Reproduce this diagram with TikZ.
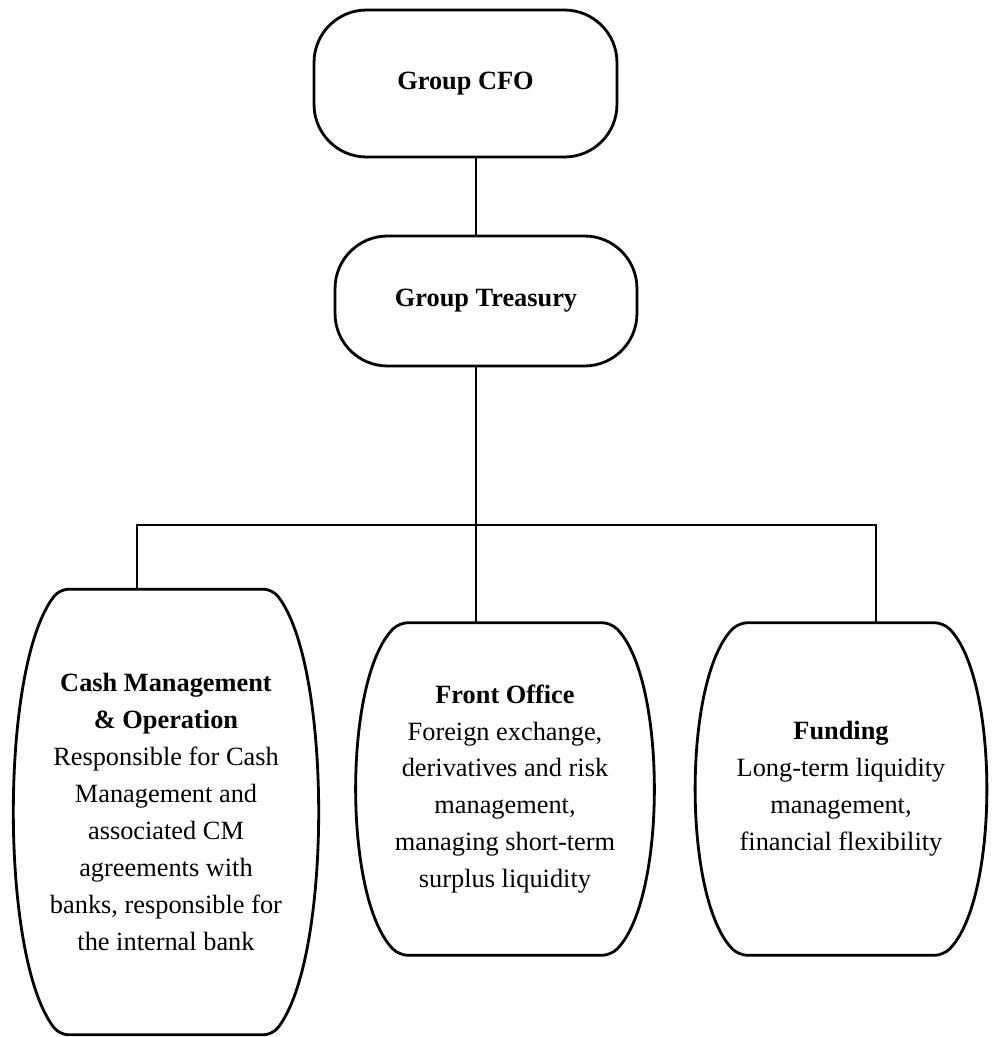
\documentclass[tikz,border=0pt]{standalone}
\usepackage{fontspec}
\setmainfont{Liberation Serif}
\usetikzlibrary{calc}
\newcommand{\orgfont}{\fontsize{15}{21}\selectfont}
\tikzset{
  orgbox/.style={draw, line width=1.6pt, rounded corners=1.05cm, align=center, font=\orgfont\bfseries},
  barrel/.style={align=center, inner sep=0pt, font=\orgfont},
  rim/.style={line width=1.6pt, line join=round, rounded corners=5pt},
  link/.style={line width=1pt}
}
% barrel outline round a named node: #1 node, #2 inset of the flat top
\newcommand{\barrelrim}[2]{%
  \draw[rim] (#1.north) -- ($(#1.north east)-(#2,0)$)
    .. controls ($(#1.north east)!0.17!(#1.south east)+(#2/3,0)$) and ($(#1.south east)!0.17!(#1.north east)+(#2/3,0)$) .. ($(#1.south east)-(#2,0)$)
    -- ($(#1.south west)+(#2,0)$)
    .. controls ($(#1.south west)!0.17!(#1.north west)-(#2/3,0)$) and ($(#1.north west)!0.17!(#1.south west)-(#2/3,0)$) .. ($(#1.north west)+(#2,0)$) -- cycle;}

\begin{document}
\begin{tikzpicture}[x=0.02cm, y=-0.02cm]
  \useasboundingbox (0,0) rectangle (999,1037);
  \node[orgbox, minimum width=6.06cm, minimum height=2.94cm] (cfo) at (465.5,83.5) {Group CFO};
  \node[orgbox, minimum width=6.04cm, minimum height=2.6cm] (treasury) at (486,301) {Group Treasury};

  \node[barrel, minimum width=6.04cm, minimum height=8.9cm] (cash) at (166,812)
    {\textbf{Cash Management}\\\textbf{\& Operation}\\Responsible for Cash\\Management and\\associated CM\\agreements with\\banks, responsible for\\the internal bank};
  \node[barrel, minimum width=5.9cm, minimum height=6.64cm] (front) at (505,789)
    {\textbf{Front Office}\\Foreign exchange,\\derivatives and risk\\management,\\managing short-term\\surplus liquidity};
  \node[barrel, minimum width=5.76cm, minimum height=6.64cm] (fund) at (841,789)
    {\textbf{Funding}\\Long-term liquidity\\management,\\financial flexibility};
  \barrelrim{cash}{45}
  \barrelrim{front}{42}
  \barrelrim{fund}{42}

  \coordinate (trunk) at (476,525);
  \coordinate (leftend) at (137,525);
  \coordinate (rightend) at (876,525);
  \draw[link] (cfo.south -| trunk) -- (treasury.north -| trunk);
  \draw[link] (treasury.south -| trunk) -- (trunk) -- (front.north -| trunk);
  \draw[link] (cash.north -| leftend) -- (leftend) -- (rightend) -- (fund.north -| rightend);
\end{tikzpicture}
\end{document}
